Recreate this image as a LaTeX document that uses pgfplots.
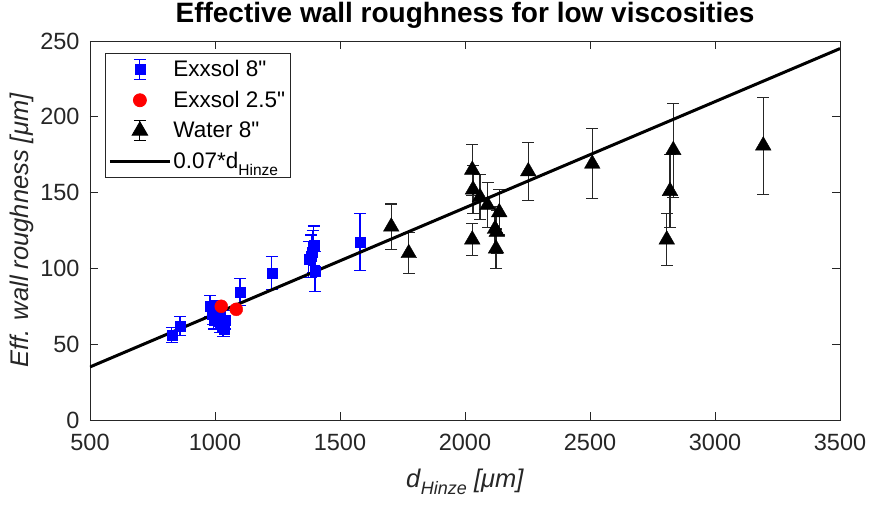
\documentclass[border=0pt]{standalone}
\usepackage{pgfplots}
\pgfplotsset{compat=1.18}
\usepackage{fontspec}
\setmainfont{Liberation Sans}
\definecolor{axgray}{rgb}{0.15,0.15,0.15}
\newcommand{\sub}[2]{\raisebox{-0.3em}{\fontsize{#1}{#1}\selectfont #2}}
\pgfplotsset{
  errlegend/.style={legend image code/.code={
    \draw[solid,line width=1.1pt,mark=none,##1] (30pt,-10pt)--(30pt,10pt) (24pt,-10pt)--(36pt,-10pt) (24pt,10pt)--(36pt,10pt);
    \draw[mark repeat=1,##1] plot coordinates {(30pt,0pt)};}},
  dotlegend/.style={legend image code/.code={
    \draw[##1] plot coordinates {(30pt,0pt)};}},
  linelegend/.style={legend image code/.code={
    \draw[##1] (0pt,0pt)--(60pt,0pt);}},
}
\begin{document}
\begin{tikzpicture}
\begin{axis}[
  scale only axis, width=750pt, height=379pt,
  xmin=500, xmax=3500, ymin=0, ymax=250,
  xtick={500,1000,...,3500}, ytick={0,50,...,250},
  tick align=inside, major tick length=8pt,
  tick style={line width=0.8pt, axgray},
  axis line style={line width=0.8pt, axgray},
  /pgf/number format/assume math mode=true,
  /pgf/number format/1000 sep={},
  ticklabel style={font=\fontsize{23.5}{26}\selectfont, text=axgray},
  xticklabel style={yshift=-11pt},
  yticklabel style={xshift=-7pt},
  every axis title shift=0pt,
  title={\bfseries Effective wall roughness for low viscosities},
  title style={font=\fontsize{28}{30}\selectfont, at={(axis description cs:0.5,1.0501)}, anchor=base},
  xlabel={\textit{d}\sub{18}{\textit{Hinze}} \textit{[μm]}},
  ylabel={\textit{Eff. wall roughness [μm]}},
  label style={font=\fontsize{25.5}{28}\selectfont, text=axgray},
  xlabel style={at={(axis description cs:0.5,-0.1636)}, anchor=center},
  ylabel style={at={(axis description cs:-0.0907,0.5)}, anchor=center},
  legend style={at={(axis description cs:0.02,0.968)}, anchor=north west,
    font=\fontsize{22.5}{25}\selectfont, draw=axgray, line width=0.8pt,
    row sep=9pt, inner xsep=3pt, inner ysep=5pt},
  legend cell align=left,
]
\addplot[only marks, mark=square*, mark size=5pt, color=blue, errlegend,
  error bars/.cd, y dir=both, y explicit,
  error bar style={line width=1.1pt, blue},
  error mark options={rotate=90, mark size=6pt, line width=1.1pt, blue}]
  table[x=x, y=y, y error=e] {
x y e
827 56 5
860 62 6.5
980 75 7
990 70 7
995 66 6
1005 72 7
1015 68 6
1020 64 6
1030 61 6
1035 60 5
1040 66 6
1100 84.5 9
1227 97 11
1375 106 12
1385 108 14
1390 111 14
1395 115 13
1400 98 13
1580 117.5 19
};
\addlegendentry{Exxsol 8\textquotedbl}
\addplot[only marks, mark=*, mark size=6.5pt, color=red, dotlegend]
  coordinates {(1025,75) (1085,73)};
\addlegendentry{Exxsol 2.5\textquotedbl}
\addplot[only marks, mark=triangle*, mark size=9pt, color=black, errlegend,
  error bars/.cd, y dir=both, y explicit,
  error bar style={line width=1.1pt, axgray},
  error mark options={rotate=90, mark size=6pt, line width=1.1pt, axgray}]
  table[x=x, y=y, y error=e] {
x y e
1705 127.5 15
1775 110 13.5
2029 165 17
2032 152 16
2029 119 10.5
2060 147 15
2090 141.8 15
2137 137 15
2120 126 15
2127 124 14
2124 113 13
2253 164 19
2509 169 23
2833 178 31
2820 151 24
2807 119 17
3193 181 32
};
\addlegendentry{Water 8\textquotedbl}
\addplot[black, line width=3pt, linelegend] coordinates {(500,35) (3500,245)};
\addlegendentry{0.07*d\sub{15.5}{Hinze}}
\end{axis}
\pgfresetboundingbox
\path[use as bounding box] ([xshift=-90pt,yshift=-86pt]current axis.south west) rectangle ++(874pt,506pt);
\end{tikzpicture}
\end{document}
